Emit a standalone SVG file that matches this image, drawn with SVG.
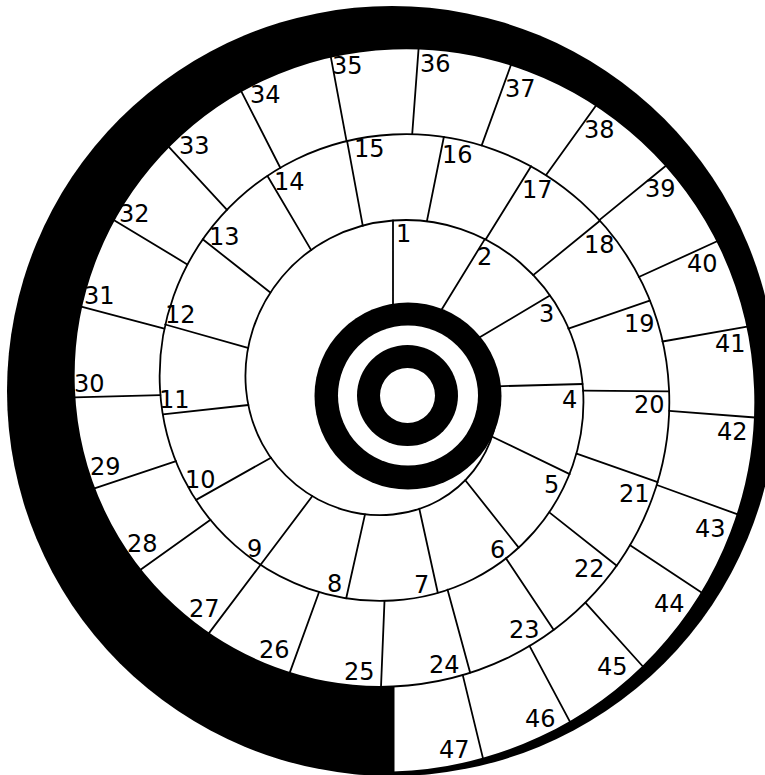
<svg xmlns="http://www.w3.org/2000/svg" width="765" height="775" viewBox="0 0 765 775">
<style>
.ln{stroke:#000;stroke-width:1.8;fill:none;stroke-linecap:round}
.lb{font-family:"DejaVu Sans","Liberation Sans",sans-serif;font-size:24px;fill:#000}
</style>
<rect width="765" height="775" fill="#fff"/>
<g id="frame">
<circle cx="392" cy="391" r="385" fill="#000"/>
<path fill="#fff" d="M393,686.5 C228.69,693.67 81.17,565.18 74,389 C66.83,212.82 204.94,55.67 393,48.5 C581.06,41.33 747.83,189.07 755,389 C762.17,588.93 604.81,765.33 393,772.5 L394.5,772.5 L394.5,686.5 Z"/>
</g>
<g id="connectors">
<path class="ln" d="M393,306.5 C438.56,299.33 489.83,331.56 497,389 C504.17,446.44 462.31,507.33 393,514.5 C323.69,521.67 253.17,470.19 246,389 C238.83,307.81 299.94,227.67 393,220.5 C486.06,213.33 575.83,284.06 583,389 C590.17,493.94 509.81,593.33 393,600.5 C276.19,607.67 167.17,517.69 160,389 C152.83,260.31 252.44,141.67 393,134.5 C533.56,127.33 661.83,236.57 669,389 C676.17,541.43 557.31,679.33 393,686.5 C228.69,693.67 81.17,565.18 74,389 C66.83,212.82 204.94,55.67 393,48.5 C581.06,41.33 747.83,189.07 755,389 C762.17,588.93 604.81,765.33 393,772.5"/>
<path class="ln" d="M393,306.5L393,220.5 M440,312.3L485,238.9 M476,339.5L549.9,295.5 M496.6,386.3L582.6,384 M492.3,436.8L569.7,474.1 M465.3,480.2L518.7,547.6 M419.3,508.7L437.8,592.7 M365,514.4L346.2,598.3 M312.2,496.3L260.4,565 M271,457.7L196.1,499.9 M248.4,405L162.9,414.4 M247.9,347.9L165.2,324.5 M270.3,292.5L202.7,239.3 M311.2,250.1L267.5,176 M362.8,225.8L347.1,141.2 M426.9,221.1L443.9,136.8 M485.8,239.3L531.1,166.2 M533.2,275.1L599.9,220.8 M568.4,328.6L649.7,300.6 M583.1,390.7L669.1,391.4 M576.6,453.7L657.7,482.2 M549.3,512.4L616.8,565.7 M505.9,558.3L553.6,629.8 M447.5,589.6L470.1,672.6 M384.5,600.9L381,686.8 M319,592.2L289.6,673.1 M260.4,565L208.6,633.6 M210.5,519.7L140.5,569.7 M176.1,461.2L94.5,488.3 M160.4,395.1L74.5,397.3 M164.3,328.6L81.2,306.6 M187.3,264.4L113.7,219.9 M227,209.8L168.6,146.7 M280.4,168L241.3,91.4 M346.6,141.3L330.8,56.8 M412.2,134.2L418.6,48.4 M481.7,145.4L511.1,64.5 M546.1,175.1L596.2,105.2 M599.3,220.1L665.9,165.7 M638.8,277L717.1,241.3 M662.5,341.5L747.2,326.6 M669.2,410.8L755,417.5 M656.9,485L737.7,514.4 M630.1,545.3L701.9,592.7 M585.4,602.6L642.9,666.5 M529.5,645.8L569.9,721.7 M462.7,674.9L483,758.4"/>
</g>
<g id="target">
<circle cx="408" cy="396" r="93.5" fill="#000"/>
<circle cx="408" cy="395.5" r="70" fill="#fff"/>
<circle cx="407.5" cy="395.5" r="50.5" fill="#000"/>
<circle cx="407.5" cy="395.5" r="27.5" fill="#fff"/>
</g>
<g class="lb">
<g id="cell-1"><text x="396" y="242">1</text></g>
<g id="cell-2"><text x="477" y="265">2</text></g>
<g id="cell-3"><text x="539" y="322">3</text></g>
<g id="cell-4"><text x="562" y="408">4</text></g>
<g id="cell-5"><text x="544" y="493">5</text></g>
<g id="cell-6"><text x="490" y="558">6</text></g>
<g id="cell-7"><text x="414" y="593">7</text></g>
<g id="cell-8"><text x="327" y="592">8</text></g>
<g id="cell-9"><text x="247" y="557">9</text></g>
<g id="cell-10"><text x="185" y="488">10</text></g>
<g id="cell-11"><text x="159" y="408">11</text></g>
<g id="cell-12"><text x="165" y="323">12</text></g>
<g id="cell-13"><text x="209" y="245">13</text></g>
<g id="cell-14"><text x="274" y="190">14</text></g>
<g id="cell-15"><text x="354" y="157">15</text></g>
<g id="cell-16"><text x="442" y="163">16</text></g>
<g id="cell-17"><text x="522" y="198">17</text></g>
<g id="cell-18"><text x="584" y="253">18</text></g>
<g id="cell-19"><text x="624" y="332">19</text></g>
<g id="cell-20"><text x="634" y="413">20</text></g>
<g id="cell-21"><text x="619" y="502">21</text></g>
<g id="cell-22"><text x="574" y="577">22</text></g>
<g id="cell-23"><text x="509" y="638">23</text></g>
<g id="cell-24"><text x="429" y="673">24</text></g>
<g id="cell-25"><text x="344" y="680">25</text></g>
<g id="cell-26"><text x="259" y="658">26</text></g>
<g id="cell-27"><text x="189" y="617">27</text></g>
<g id="cell-28"><text x="127" y="552">28</text></g>
<g id="cell-29"><text x="90" y="475">29</text></g>
<g id="cell-30"><text x="74" y="392">30</text></g>
<g id="cell-31"><text x="84" y="304">31</text></g>
<g id="cell-32"><text x="119" y="222">32</text></g>
<g id="cell-33"><text x="179" y="154">33</text></g>
<g id="cell-34"><text x="250" y="103">34</text></g>
<g id="cell-35"><text x="332" y="74">35</text></g>
<g id="cell-36"><text x="420" y="72">36</text></g>
<g id="cell-37"><text x="505" y="97">37</text></g>
<g id="cell-38"><text x="584" y="138">38</text></g>
<g id="cell-39"><text x="645" y="197">39</text></g>
<g id="cell-40"><text x="687" y="272">40</text></g>
<g id="cell-41"><text x="715" y="352">41</text></g>
<g id="cell-42"><text x="717" y="440">42</text></g>
<g id="cell-43"><text x="695" y="537">43</text></g>
<g id="cell-44"><text x="654" y="612">44</text></g>
<g id="cell-45"><text x="597" y="675">45</text></g>
<g id="cell-46"><text x="525" y="727">46</text></g>
<g id="cell-47"><text x="439" y="758">47</text></g>
</g>
</svg>
